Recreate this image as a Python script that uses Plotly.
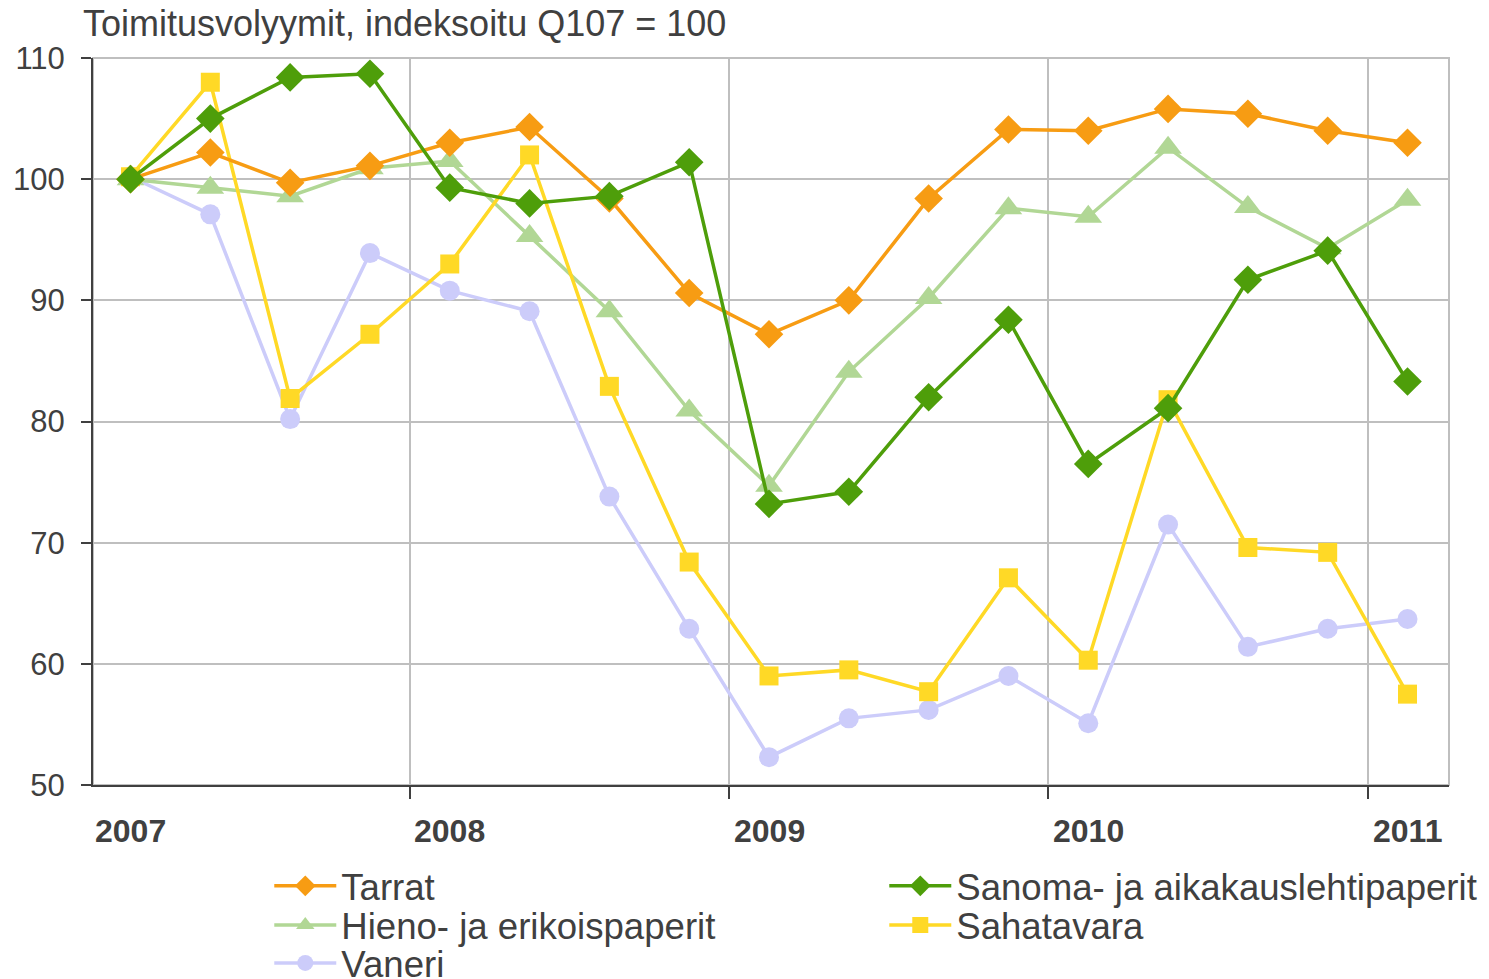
import plotly.graph_objects as go

# Quarterly delivery volumes, Q1 2007 .. Q1 2011 (index Q107 = 100)
quarters = list(range(17))
years = ["2007", "2008", "2009", "2010", "2011"]

tarrat = [100.0, 102.2, 99.7, 101.1, 103.0, 104.3, 98.4, 90.6, 87.2, 90.0,
          98.4, 104.1, 104.0, 105.8, 105.4, 104.0, 103.0]
sanoma = [100.0, 105.0, 108.4, 108.7, 99.3, 98.0, 98.6, 101.4, 73.2, 74.2,
          82.0, 88.4, 76.5, 81.1, 91.7, 94.1, 83.3]
hieno = [100.0, 99.3, 98.6, 100.9, 101.5, 95.3, 89.1, 80.9, 74.7, 84.1,
         90.2, 97.6, 96.9, 102.6, 97.7, 94.3, 98.3]
sahatavara = [100.2, 108.0, 81.9, 87.2, 93.0, 102.0, 82.9, 68.4, 59.0, 59.5,
              57.7, 67.1, 60.3, 81.8, 69.6, 69.2, 57.5]
vaneri = [100.2, 97.1, 80.2, 93.9, 90.8, 89.1, 73.8, 62.9, 52.3, 55.5,
          56.2, 59.0, 55.1, 71.5, 61.4, 62.9, 63.7]

FONT = "Liberation Sans, Arial, sans-serif"
TXT = "#404040"

fig = go.Figure()


def add_series(y, name, color, symbol, size, legend, rank):
    fig.add_trace(
        go.Scatter(
            x=quarters,
            y=y,
            name=name,
            mode="lines+markers",
            line=dict(color=color, width=3.5),
            marker=dict(color=color, symbol=symbol, size=size),
            legend=legend,
            legendrank=rank,
        )
    )


# drawing order: back to front; legend rows: legend / legend2 / legend3
add_series(vaneri, "Vaneri", "#CCCCFA", "circle", 20, "legend3", 1)
add_series(hieno, "Hieno- ja erikoispaperit", "#B1D795", "triangle-up", 24, "legend2", 1)
add_series(sahatavara, "Sahatavara", "#FFD926", "square", 19, "legend2", 2)
add_series(tarrat, "Tarrat", "#F79C13", "diamond", 22, "legend", 1)
add_series(sanoma, "Sanoma- ja aikakauslehtipaperit", "#4E9E0A", "diamond", 22, "legend", 2)

# year labels under the first quarter of each year
for i, yr in enumerate(years):
    fig.add_annotation(
        x=quarters[i * 4], y=-0.063, xref="x", yref="paper",
        yanchor="middle",
        text=f"<b>{yr}</b>", showarrow=False,
        font=dict(size=32, color=TXT, family=FONT),
    )

fig.add_annotation(
    x=-0.009, y=1.048, xref="paper", yref="paper",
    xanchor="left", yanchor="middle",
    text="Toimitusvolyymit, indeksoitu Q107 = 100", showarrow=False,
    font=dict(size=36, color=TXT, family=FONT),
)

# light frame on top/right
fig.add_shape(
    type="rect", xref="paper", yref="paper", x0=0, y0=0, x1=1, y1=1,
    line=dict(color="#BFBFBF", width=2), layer="below",
)

fig.update_xaxes(
    range=[-0.47, 16.52],
    tickvals=[-0.5, 3.5, 7.5, 11.5, 15.5],
    ticktext=["", "", "", "", ""],
    showgrid=True, gridcolor="#BFBFBF", gridwidth=2,
    showline=True, linecolor=TXT, linewidth=2,
    ticks="outside", ticklen=12, tickcolor=TXT, tickwidth=2,
    zeroline=False,
)
fig.update_yaxes(
    range=[50, 110], dtick=10,
    showgrid=True, gridcolor="#BFBFBF", gridwidth=2,
    showline=True, linecolor=TXT, linewidth=2,
    ticks="outside", ticklen=10, tickcolor=TXT, tickwidth=2,
    ticklabelstandoff=10,
    tickfont=dict(size=31, color=TXT, family=FONT),
    zeroline=False,
)

legend_style = dict(
    orientation="h", xanchor="left", yanchor="middle", x=0.13,
    font=dict(size=36.6, color=TXT, family=FONT),
    bgcolor="rgba(0,0,0,0)", itemwidth=62,
    entrywidth=538, entrywidthmode="pixels",
)

# page body has an 8px margin, so the figure is 8px smaller than the window
fig.update_layout(
    width=1481,
    height=971,
    margin=dict(l=85, r=40, t=50, b=194, autoexpand=False),
    plot_bgcolor="white",
    paper_bgcolor="white",
    font=dict(family=FONT, color=TXT),
    legend=dict(y=-0.139, **legend_style),
    legend2=dict(y=-0.193, **legend_style),
    legend3=dict(y=-0.245, **legend_style),
)

fig.write_html("out.html")
